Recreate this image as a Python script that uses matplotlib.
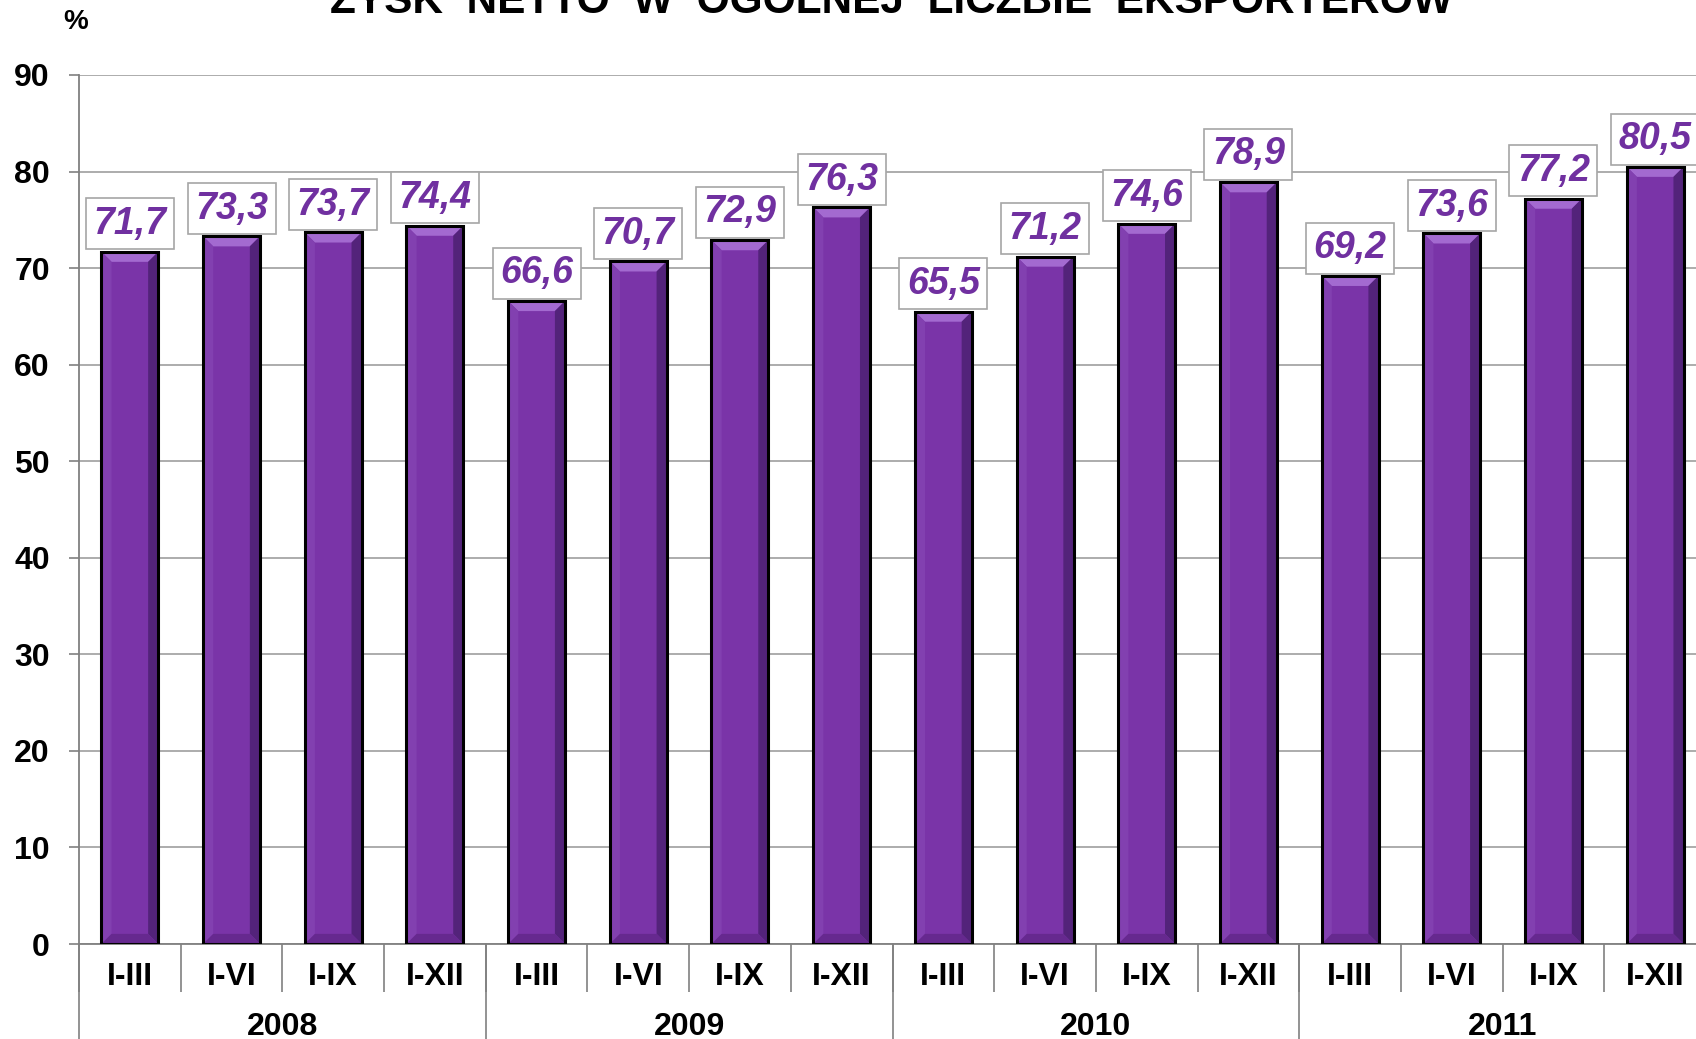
import matplotlib.pyplot as plt
from matplotlib.patches import Polygon

# data
years = ['2008', '2009', '2010', '2011']
periods = ['I-III', 'I-VI', 'I-IX', 'I-XII']
values = [71.7, 73.3, 73.7, 74.4,
          66.6, 70.7, 72.9, 76.3,
          65.5, 71.2, 74.6, 78.9,
          69.2, 73.6, 77.2, 80.5]
cat_labels = periods * len(years)
title = 'ZYSK  NETTO  W  OGÓLNEJ  LICZBIE  EKSPORTERÓW'

plt.rcParams['font.family'] = ['Liberation Sans', 'DejaVu Sans']
plt.rcParams['font.weight'] = 'bold'

W, H = 1696, 1039
fig = plt.figure(figsize=(W / 100, H / 100), dpi=100)
ax = fig.add_axes([79 / W, (H - 944) / H, 1627 / W, (944 - 75) / H])

x = list(range(len(values)))
bw = 0.56
bar_col = '#7a34a8'

# bar fill
ax.bar(x, values, width=bw, color=bar_col, zorder=3)

# bevel look (computed from the values)
dx, dy = 0.1, 1.05
for xi, v in zip(x, values):
    l, r = xi - bw / 2, xi + bw / 2
    top = Polygon([(l, v), (r, v), (r - dx, v - dy), (l + dx, v - dy)],
                  closed=True, fc='#a36ad0', ec='none', zorder=4)
    right = Polygon([(r, v), (r, 0), (r - dx, dy), (r - dx, v - dy)],
                    closed=True, fc='#53237a', ec='none', zorder=4)
    left = Polygon([(l, v), (l, 0), (l + dx, dy), (l + dx, v - dy)],
                   closed=True, fc='#8240b0', ec='none', zorder=4)
    bottom = Polygon([(l, 0), (r, 0), (r - dx, dy), (l + dx, dy)],
                     closed=True, fc='#66298f', ec='none', zorder=4)
    for p in (top, right, left, bottom):
        ax.add_patch(p)

# outline
ax.bar(x, values, width=bw, fill=False, edgecolor='black', linewidth=2.2, zorder=5)

# value labels in boxes
for xi, v in zip(x, values):
    ax.annotate(f'{v:.1f}'.replace('.', ','), xy=(xi, v), xytext=(0, 7),
                textcoords='offset points', ha='center', va='bottom',
                fontsize=27, fontweight='bold', fontstyle='italic', color='#7030a0',
                bbox=dict(boxstyle='square,pad=0.2', fc='white', ec='#a6a6a6', lw=1.2),
                zorder=6)

ax.set_xlim(-0.5, len(values) - 0.5)
ax.set_ylim(0, 90)
ax.set_yticks(range(0, 91, 10))
ax.tick_params(axis='y', length=7, width=1.2, color='#808080', pad=14, labelsize=23)
ax.yaxis.grid(True, color='#a6a6a6', linewidth=1.3, zorder=0)
ax.set_axisbelow(True)

ax.set_xticks(x)
ax.set_xticklabels(cat_labels)
ax.tick_params(axis='x', which='major', length=0, pad=13, labelsize=23)
ax.set_xticks([i - 0.5 for i in range(len(values) + 1)], minor=True)
ax.tick_params(axis='x', which='minor', length=34.5, width=1.2, color='#808080')

for s in ['top', 'right']:
    ax.spines[s].set_visible(False)
for s in ['left', 'bottom']:
    ax.spines[s].set_color('#808080')
    ax.spines[s].set_linewidth(1.3)

# year group labels and separators
trans = ax.get_xaxis_transform()
ah = 944 - 75
for k, yr in enumerate(years):
    c = k * len(periods) + (len(periods) - 1) / 2
    ax.text(c, -83 / ah, yr, transform=trans, ha='center', va='center',
            fontsize=23, fontweight='bold')
for k in range(len(years) + 1):
    b = k * len(periods) - 0.5
    ax.plot([b, b], [0, -0.2], transform=trans, color='#808080', lw=1.2,
            clip_on=False)

fig.text(76 / W, 1 - 22 / H, '%', ha='center', va='center', fontsize=20, fontweight='bold')
fig.text(891 / W, 1 - 12.7 / H, title, ha='center', va='baseline',
         fontsize=30.5, fontweight='bold')

plt.savefig('out.png', dpi=100)
